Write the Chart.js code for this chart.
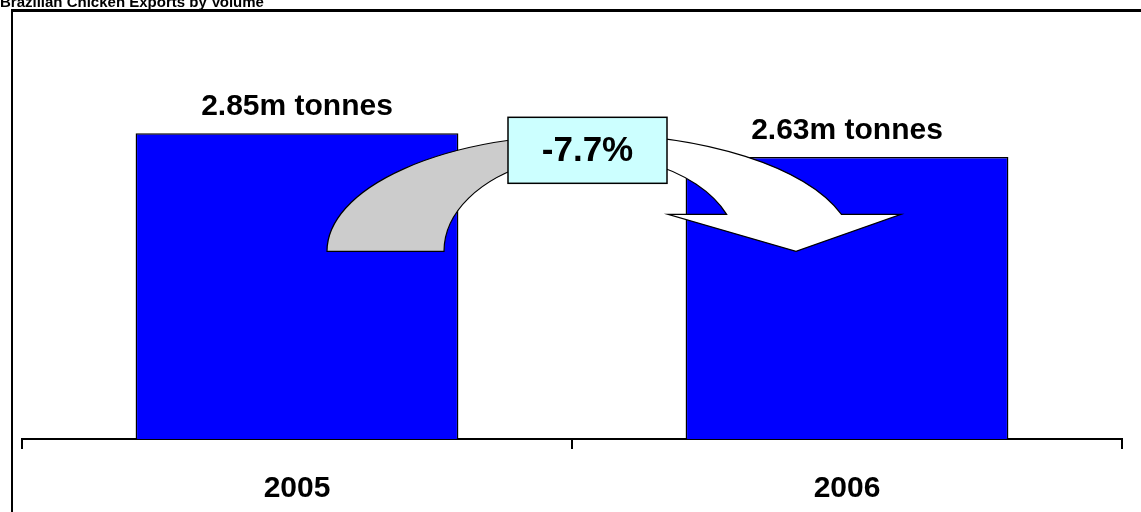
<!DOCTYPE html>
<html>
<head>
<meta charset="utf-8">
<title>Brazilian Chicken Exports by Volume</title>
<script src="https://cdn.jsdelivr.net/npm/chart.js@4.4.1/dist/chart.umd.min.js"></script>
<style>
  html, body { margin: 0; padding: 0; background: #fff; }
  canvas { display: block; }
</style>
</head>
<body>
<canvas id="exportsChart" width="1141" height="512"></canvas>
<script>
// Export volumes, million tonnes
const years = ['2005', '2006'];
const volumes = [2.85, 2.63];
const unitLabel = 'm tonnes';
const chartTitle = 'Brazilian Chicken Exports by Volume';

const FONT = 'Arial, "Liberation Sans", sans-serif';

// Percentage change between the two years, e.g. "-7.7%"
function changeLabel() {
    const pct = (volumes[1] - volumes[0]) / volumes[0] * 100;
    return (pct > 0 ? '+' : '') + pct.toFixed(1) + '%';
}

const decorations = {
    id: 'decorations',
    beforeDraw(chart) {
        const ctx = chart.ctx;
        ctx.save();
        ctx.fillStyle = '#fff';
        ctx.fillRect(0, 0, chart.width, chart.height);

        // frame: heavy top rule and left edge
        ctx.fillStyle = '#000';
        ctx.fillRect(11, 9, chart.width - 11, 3);
        ctx.fillRect(11, 9, 2, chart.height - 9);

        // title sits mostly above the frame
        ctx.font = 'bold 15px ' + FONT;
        ctx.textAlign = 'left';
        ctx.textBaseline = 'alphabetic';
        ctx.fillText(chartTitle, 0, 7);
        ctx.restore();
    },
    afterDatasetsDraw(chart) {
        const ctx = chart.ctx;
        const x = chart.scales.x;
        const y = chart.scales.y;
        const meta = chart.getDatasetMeta(0);

        // curved arrow from the first bar over to the second
        const mid = (x.getPixelForValue(0) + x.getPixelForValue(1)) / 2;
        const cx = mid + 19;
        const cy = y.getPixelForValue(1.75);
        const outer = { rx: 264, ry: 117 };
        const inner = { rx: 147, ry: 96 };
        const rise = 37;
        const aOut = 2 * Math.PI - Math.asin(rise / outer.ry);
        const aIn = 2 * Math.PI - Math.asin(rise / inner.ry);
        const baseY = cy - rise;

        const arrowPath = () => {
            ctx.beginPath();
            ctx.ellipse(cx, cy, outer.rx, outer.ry, 0, Math.PI, aOut, false);
            ctx.lineTo(cx + 310, baseY);
            ctx.lineTo(cx + 205, cy);
            ctx.lineTo(cx + 77, baseY);
            ctx.lineTo(cx + inner.rx * Math.cos(aIn), baseY);
            ctx.ellipse(cx, cy, inner.rx, inner.ry, 0, aIn, Math.PI, true);
            ctx.closePath();
        };

        const boxL = mid - 64, boxR = mid + 95;
        const boxT = cy - 134, boxB = cy - 68;
        const boxMid = (boxL + boxR) / 2;

        ctx.save();
        // grey tail on the left, white head on the right
        ctx.save();
        ctx.beginPath();
        ctx.rect(0, 0, boxMid, chart.height);
        ctx.clip();
        arrowPath();
        ctx.fillStyle = '#cccccc';
        ctx.fill();
        ctx.restore();

        ctx.save();
        ctx.beginPath();
        ctx.rect(boxMid, 0, chart.width - boxMid, chart.height);
        ctx.clip();
        arrowPath();
        ctx.fillStyle = '#ffffff';
        ctx.fill();
        ctx.restore();

        arrowPath();
        ctx.lineWidth = 1.2;
        ctx.strokeStyle = '#000';
        ctx.lineJoin = 'miter';
        ctx.stroke();

        // change box
        ctx.fillStyle = '#ccffff';
        ctx.fillRect(boxL, boxT, boxR - boxL, boxB - boxT);
        ctx.lineWidth = 1.5;
        ctx.strokeRect(boxL, boxT, boxR - boxL, boxB - boxT);
        ctx.fillStyle = '#000';
        ctx.font = 'bold 35px ' + FONT;
        ctx.textAlign = 'center';
        ctx.textBaseline = 'middle';
        ctx.fillText(changeLabel(), boxMid, (boxT + boxB) / 2 + 1);

        // value labels above each bar
        ctx.font = 'bold 30px ' + FONT;
        ctx.textBaseline = 'alphabetic';
        meta.data.forEach((bar, i) => {
            ctx.fillText(volumes[i].toFixed(2) + unitLabel, bar.x, bar.y - 18);
        });
        ctx.restore();
    }
};

new Chart(document.getElementById('exportsChart'), {
    type: 'bar',
    data: {
        labels: years,
        datasets: [{
            data: volumes,
            backgroundColor: '#0000ff',
            borderColor: '#000000',
            borderWidth: 1.5,
            categoryPercentage: 1,
            barPercentage: 0.587
        }]
    },
    options: {
        responsive: false,
        animation: false,
        devicePixelRatio: 1,
        layout: { padding: { top: 10, left: 22, right: 19, bottom: 0 } },
        plugins: {
            legend: { display: false },
            tooltip: { enabled: false },
            title: { display: false }
        },
        scales: {
            x: {
                offset: true,
                afterFit(scale) { scale.height = 73; },
                border: { display: true, color: '#000', width: 2 },
                grid: {
                    display: true,
                    offset: true,
                    drawOnChartArea: false,
                    drawTicks: true,
                    tickLength: 10,
                    color: '#000',
                    lineWidth: 2
                },
                ticks: {
                    color: '#000',
                    padding: 22,
                    font: { family: FONT, size: 30, weight: 'bold' }
                }
            },
            y: {
                display: false,
                min: 0,
                max: 4
            }
        }
    },
    plugins: [decorations]
});
</script>
</body>
</html>
